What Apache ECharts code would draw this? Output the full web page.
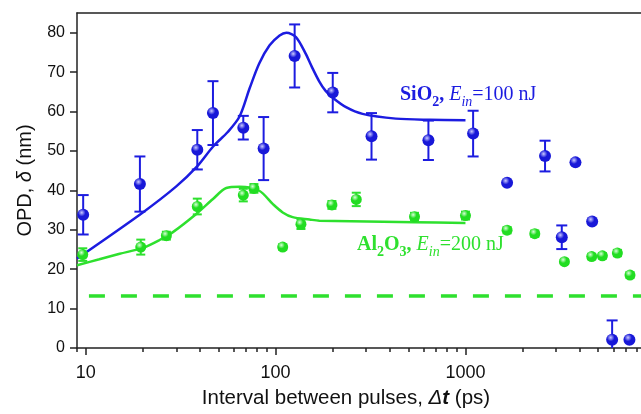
<!DOCTYPE html>
<html lang="en">
<head>
    <meta charset="UTF-8">
    <script src="https://cdn.jsdelivr.net/npm/echarts@6/dist/echarts.min.js"></script>
    <title>OPD vs interval</title>
    <style>
        html, body { margin: 0; padding: 0; background: #fff; }
    </style>
</head>
<body>
    <div id="main" style="width:641px;height:414px"></div>
    <script>
        // measured points, SiO2 (blue) and Al2O3 (green)
        var sio2X   = [9.7, 19.3, 38.7, 46.8, 67.6, 86.5, 126, 200, 320, 638, 1097, 1656, 2624, 3794, 3214, 4645, 5919, 7300];
        var sio2Y   = [33.8, 41.6, 50.3, 59.6, 55.9, 50.6, 74.1, 64.8, 53.7, 52.7, 54.4, 41.9, 48.7, 47.1, 28.1, 32.1, 2.1, 2.1];
        var sio2Err = [5.0, 7.0, 5.0, 8.1, 3.0, 8.0, 8.0, 5.0, 5.9, 5.0, 5.8, 0, 3.9, 0, 3.0, 0, 4.9, 0];

        var al2o3X   = [9.65, 19.5, 26.6, 38.7, 67.6, 76.9, 109, 136, 198, 266, 539, 1000, 1656, 2317, 3319, 4620, 5260, 6310, 7350];
        var al2o3Y   = [23.7, 25.6, 28.5, 35.9, 38.8, 40.5, 25.6, 31.4, 36.3, 37.7, 33.3, 33.6, 29.9, 29.0, 21.9, 23.2, 23.4, 24.1, 18.5];
        var al2o3Err = [1.6, 1.9, 1.0, 2.0, 1.6, 1.1, 0.7, 1.2, 1.0, 1.7, 1.0, 1.0, 0.8, 0.8, 0.6, 0.7, 0.7, 0.8, 0.7];

        // model curves
        var sio2FitX = [9, 20, 30, 38.5, 47, 56, 64.7, 73, 82, 93, 105, 114, 128, 144, 155, 170, 183, 200, 235, 287, 430, 648, 1000];
        var sio2FitY = [22.7, 34.4, 41.0, 46.0, 51.2, 54.8, 58.8, 65.9, 72.2, 76.8, 79.3, 80.0, 78.9, 74.7, 71.4, 67.6, 65.3, 63.5, 61.1, 59.4, 58.2, 57.9, 57.8];
        var al2o3FitX = [9, 11.8, 15.1, 20, 24.5, 28.8, 38.2, 46.8, 55, 64.7, 82, 96.8, 109, 123, 151, 170, 539, 1000];
        var al2o3FitY = [21.0, 22.5, 23.9, 25.4, 27.4, 29.4, 34.0, 37.8, 40.6, 40.9, 39.9, 36.5, 34.4, 33.2, 32.6, 32.3, 31.9, 31.7];

        // dashed reference level
        var levelX = [10.4, 8400];
        var levelY = [13.2, 13.2];

        var majorTicks = [10, 100, 1000];
        var minorTicks = [9, 20, 30, 40, 50, 60, 70, 80, 90, 200, 300, 400, 500, 600, 700, 800, 900,
                          2000, 3000, 4000, 5000, 6000, 7000, 8000];
        var yTicks = [0, 10, 20, 30, 40, 50, 60, 70, 80];

        var X_MIN = 9, X_MAX = 8400;
        var BLUE = '#1c1ce0';
        var GREEN = '#2ee02e';

        function zip(xs, ys, es) {
            return xs.map(function (x, i) {
                return es ? [x, ys[i], es[i]] : [x, ys[i]];
            });
        }

        function ball(light, dark) {
            return {
                type: 'radial', x: 0.38, y: 0.32, r: 0.7,
                colorStops: [
                    { offset: 0, color: light },
                    { offset: 0.45, color: dark },
                    { offset: 1, color: dark }
                ]
            };
        }

        function errBars(color, cap) {
            return function (params, api) {
                var e = api.value(2);
                if (!e) return;
                var x = api.value(0), y = api.value(1);
                var top = api.coord([x, y + e]);
                var bot = api.coord([x, y - e]);
                var cs = params.coordSys;
                var yMax = cs.y + cs.height;
                var clipped = bot[1] > yMax;
                if (clipped) bot[1] = yMax;
                var st = { stroke: color, lineWidth: 2 };
                var kids = [
                    { type: 'line', shape: { x1: top[0], y1: top[1], x2: bot[0], y2: bot[1] }, style: st },
                    { type: 'line', shape: { x1: top[0] - cap, y1: top[1], x2: top[0] + cap, y2: top[1] }, style: st }
                ];
                if (!clipped) {
                    kids.push({ type: 'line', shape: { x1: bot[0] - cap, y1: bot[1], x2: bot[0] + cap, y2: bot[1] }, style: st });
                }
                return { type: 'group', children: kids };
            };
        }

        function richText(color) {
            return {
                b: { fontFamily: 'Liberation Serif', fontSize: 20, fontWeight: 'bold', lineHeight: 28, fill: color },
                bs: { fontFamily: 'Liberation Serif', fontSize: 14, fontWeight: 'bold', lineHeight: 10, verticalAlign: 'bottom', fill: color },
                i: { fontFamily: 'Liberation Serif', fontSize: 20, fontStyle: 'italic', lineHeight: 28, fill: color },
                is: { fontFamily: 'Liberation Serif', fontSize: 14, fontStyle: 'italic', lineHeight: 10, verticalAlign: 'bottom', fill: color },
                r: { fontFamily: 'Liberation Serif', fontSize: 20, lineHeight: 28, fill: color }
            };
        }

        var main = document.getElementById('main');
        var chart = echarts.init(main, null, { renderer: 'canvas' });

        var axisColor = '#222';
        var option = {
            animation: false,
            grid: { left: 77, right: 0, top: 13, bottom: 64 },
            xAxis: [{
                type: 'log', logBase: 10, min: X_MIN, max: X_MAX,
                name: '{t|Interval between pulses, }{d|Δ}{b|t}{t| (ps)}',
                nameLocation: 'middle', nameGap: 40,
                nameTextStyle: {
                    padding: [0, 26, 0, 0],
                    rich: {
                        t: { fontFamily: 'Liberation Sans', fontSize: 20.5, color: '#111' },
                        d: { fontFamily: 'Liberation Sans', fontSize: 20.5, fontStyle: 'italic', color: '#111' },
                        b: { fontFamily: 'Liberation Sans', fontSize: 20.5, fontStyle: 'italic', fontWeight: 'bold', color: '#111' }
                    }
                },
                splitLine: { show: false },
                axisLine: { lineStyle: { color: axisColor, width: 1.5 } },
                axisTick: { customValues: majorTicks, length: 7, lineStyle: { color: axisColor, width: 1.5 } },
                axisLabel: {
                    customValues: majorTicks, margin: 16,
                    formatter: function (v) { return String(Math.round(v)); },
                    fontFamily: 'Liberation Sans', fontSize: 18, color: '#111'
                },
                minorTick: { show: false }
            }, {
                type: 'log', logBase: 10, min: X_MIN, max: X_MAX,
                position: 'bottom', gridIndex: 0,
                splitLine: { show: false },
                axisLine: { show: false },
                axisTick: { customValues: minorTicks, length: 4, lineStyle: { color: axisColor, width: 1.5 } },
                axisLabel: { show: false }
            }, {
                type: 'log', logBase: 10, min: X_MIN, max: X_MAX,
                position: 'top', gridIndex: 0,
                splitLine: { show: false },
                axisLine: { show: true, lineStyle: { color: axisColor, width: 1.5 } },
                axisTick: { show: false },
                axisLabel: { show: false }
            }],
            yAxis: {
                type: 'value', min: 0, max: 85,
                name: '{t|OPD, }{d|δ}{t| (nm)}',
                nameLocation: 'middle', nameGap: 42, nameRotate: 90,
                nameTextStyle: {
                    rich: {
                        t: { fontFamily: 'Liberation Sans', fontSize: 20, color: '#111' },
                        d: { fontFamily: 'Liberation Sans', fontSize: 20, fontStyle: 'italic', color: '#111' }
                    }
                },
                splitLine: { show: false },
                axisLine: { show: true, lineStyle: { color: axisColor, width: 1.5 } },
                axisTick: { show: true, customValues: yTicks, length: 7, lineStyle: { color: axisColor, width: 1.5 } },
                axisLabel: {
                    customValues: yTicks, margin: 12,
                    fontFamily: 'Liberation Sans', fontSize: 16, color: '#111'
                }
            },
            graphic: [{
                type: 'text', left: 400, top: 85, z: 100,
                style: {
                    text: '{b|SiO}{bs|2}{b|, }{i|E}{is|in}{r|=100 nJ}',
                    fill: BLUE,
                    rich: richText(BLUE)
                }
            }, {
                type: 'text', left: 357, top: 235, z: 100,
                style: {
                    text: '{b|Al}{bs|2}{b|O}{bs|3}{b|, }{i|E}{is|in}{r|=200 nJ}',
                    fill: GREEN,
                    rich: richText(GREEN)
                }
            }],
            series: [
                {
                    name: 'level', type: 'line', data: zip(levelX, levelY),
                    showSymbol: false, silent: true,
                    lineStyle: { color: GREEN, width: 3.5, type: [16, 16] }
                },
                {
                    name: 'SiO2 fit', type: 'line', data: zip(sio2FitX, sio2FitY),
                    showSymbol: false, smooth: 0.3,
                    lineStyle: { color: BLUE, width: 2.5 }
                },
                {
                    name: 'Al2O3 fit', type: 'line', data: zip(al2o3FitX, al2o3FitY),
                    showSymbol: false, smooth: 0.3,
                    lineStyle: { color: GREEN, width: 2.5 }
                },
                {
                    name: 'SiO2 err', type: 'custom', data: zip(sio2X, sio2Y, sio2Err),
                    renderItem: errBars(BLUE, 5.5), z: 3
                },
                {
                    name: 'Al2O3 err', type: 'custom', data: zip(al2o3X, al2o3Y, al2o3Err),
                    renderItem: errBars(GREEN, 4.5), z: 3
                },
                {
                    name: 'Al2O3', type: 'scatter', data: zip(al2o3X, al2o3Y),
                    symbol: 'circle', symbolSize: 11, z: 4,
                    itemStyle: { color: ball('#d8ffd8', '#22dd22'), opacity: 1 }
                },
                {
                    name: 'SiO2', type: 'scatter', data: zip(sio2X, sio2Y),
                    symbol: 'circle', symbolSize: 12, z: 4,
                    itemStyle: { color: ball('#c8c8ff', '#1818d8'), opacity: 1 }
                }
            ]
        };
        chart.setOption(option);
    </script>
</body>
</html>
